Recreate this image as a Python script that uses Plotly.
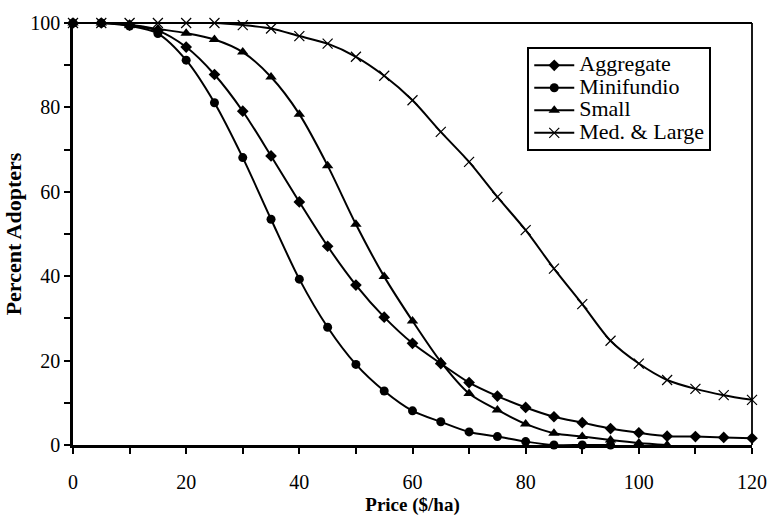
import plotly.graph_objects as go

price = [0, 5, 10, 15, 20, 25, 30, 35, 40, 45, 50, 55, 60, 65, 70, 75, 80, 85, 90, 95, 100, 105, 110, 115, 120]

aggregate = [100, 100, 99.5, 98.2, 94.3, 87.8, 79.1, 68.5, 57.6, 47.1, 37.9, 30.3, 24.1, 19.3,
             14.8, 11.6, 8.9, 6.7, 5.3, 3.9, 2.9, 2.1, 2.0, 1.8, 1.6]
minifundio = [100, 100, 99.3, 97.5, 91.2, 81.1, 68.1, 53.5, 39.3, 27.9, 19.1, 12.8, 8.1, 5.5,
              3.1, 2.0, 0.8, 0, 0, 0]
small = [100, 100, 99.6, 98.6, 97.6, 96.1, 93.1, 87.2, 78.4, 66.2, 52.3, 39.9, 29.4, 19.7,
         12.2, 8.3, 5.0, 2.8, 2.0, 1.2, 0.5, 0]
med_large = [100, 100, 100, 100, 100, 100, 99.5, 98.7, 96.9, 95.1, 92.0, 87.5, 81.7, 74.2,
             67.1, 58.8, 50.9, 41.8, 33.4, 24.7, 19.3, 15.4, 13.3, 11.8, 10.7]

x_ticks = [0, 20, 40, 60, 80, 100, 120]
y_ticks = [0, 20, 40, 60, 80, 100]

FONT = "Liberation Serif"

series = [
    ("Aggregate", aggregate, dict(symbol="diamond", size=9)),
    ("Minifundio", minifundio, dict(symbol="circle", size=9)),
    ("Small", small, dict(symbol="triangle-up", size=10)),
    ("Med. & Large", med_large, dict(symbol="x-thin", size=10, line=dict(width=1.2, color="black"))),
]

fig = go.Figure()
for name, vals, mk in series:
    fig.add_trace(go.Scatter(
        x=price[:len(vals)], y=vals,
        name='<span style="font-size:22px">' + name + '</span>',
        mode="lines+markers",
        line=dict(color="black", width=2, shape="spline", smoothing=0.8),
        marker=dict(color="black", **mk),
        cliponaxis=False,
    ))

fig.update_layout(
    width=769, height=516,
    margin=dict(l=73, r=17, t=23, b=71, autoexpand=False),
    paper_bgcolor="white", plot_bgcolor="white",
    font=dict(family=FONT, color="black", size=20),
    showlegend=True,
    legend=dict(
        x=0.669, y=0.943, xanchor="left", yanchor="top",
        bordercolor="black", borderwidth=2, bgcolor="white",
        font=dict(family=FONT, size=15, color="black"),
        itemwidth=40, tracegroupgap=0,
    ),
    xaxis=dict(
        range=[0, 120], tickvals=x_ticks, showgrid=False, zeroline=False, automargin=False,
        showline=True, linecolor="black", linewidth=2.5,
        ticks="outside", ticklen=6, tickwidth=1.5, tickcolor="black",
        ticklabelstandoff=11, ticklabeloverflow="allow",
        minor=dict(dtick=10, ticks="outside", ticklen=6, tickwidth=1.5, tickcolor="black"),
        title=dict(text="<b>Price ($/ha)</b>", font=dict(family=FONT, size=19), standoff=6),
        tickfont=dict(family=FONT, size=20),
    ),
    yaxis=dict(
        range=[0, 100], tickvals=y_ticks, showgrid=False, zeroline=False, automargin=True,
        showline=True, linecolor="black", linewidth=2.5,
        ticks="outside", ticklen=6, tickwidth=1.5, tickcolor="black",
        ticklabeloverflow="allow",
        minor=dict(dtick=10, ticks="outside", ticklen=6, tickwidth=1.5, tickcolor="black"),
        title=dict(text="<b>Percent Adopters</b>", font=dict(family=FONT, size=22), standoff=3),
        tickfont=dict(family=FONT, size=20),
    ),
    shapes=[
        dict(type="line", xref="paper", yref="paper", x0=0, x1=1, y0=1, y1=1,
             line=dict(color="black", width=1.8)),
        dict(type="line", xref="paper", yref="paper", x0=1, x1=1, y0=0, y1=1,
             line=dict(color="black", width=1.8)),
    ],
)

# remove the default 8px page margin so the 769x516 figure fills the window exactly
fig.write_html(
    "out.html",
    config={"displayModeBar": False},
    post_script="document.body.style.margin='0px'; document.body.style.overflow='hidden';",
)
